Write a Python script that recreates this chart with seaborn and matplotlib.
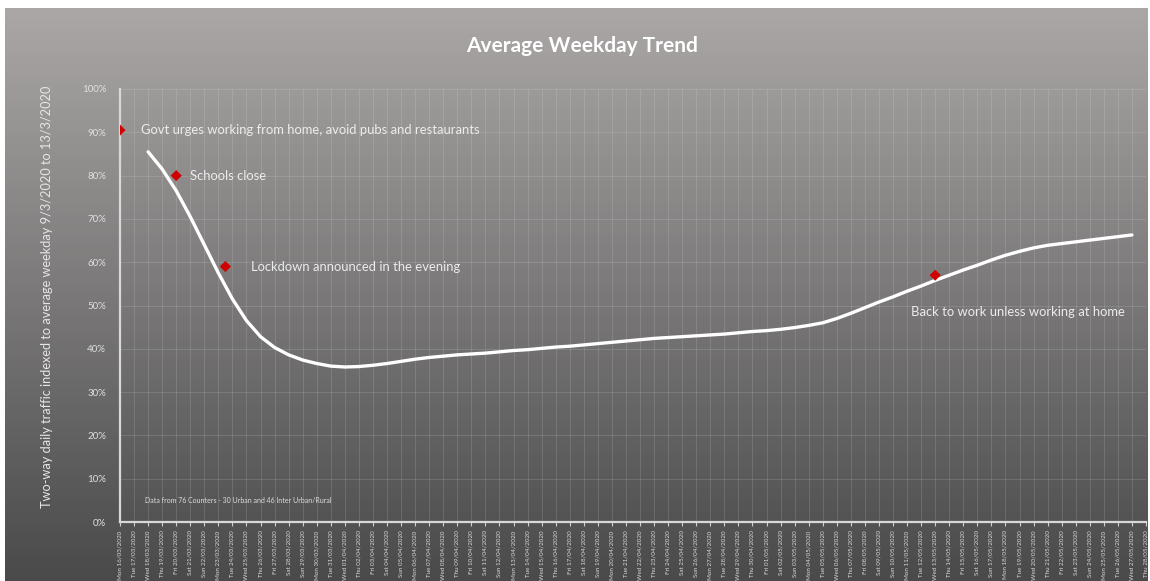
import numpy as np
import pandas as pd
import matplotlib
matplotlib.use("Agg")
import matplotlib.pyplot as plt
import seaborn as sns

# ---------------- data ----------------
dates = pd.date_range("2020-03-16", periods=74, freq="D")
date_labels = [d.strftime("%a %d/%m/%Y") for d in dates]

trend_day = list(range(2, 73))
trend_pct = [85.5, 81.5, 76.5, 70.5, 64.0, 57.5, 51.5, 46.5, 42.8, 40.3,
             38.6, 37.4, 36.6, 36.0, 35.8, 35.9, 36.2, 36.6, 37.1, 37.6,
             38.0, 38.3, 38.6, 38.8, 39.0, 39.3, 39.6, 39.8, 40.1, 40.4,
             40.6, 40.9, 41.2, 41.5, 41.8, 42.1, 42.4, 42.6, 42.8, 43.0,
             43.2, 43.4, 43.7, 44.0, 44.2, 44.5, 44.9, 45.4, 46.0, 47.0,
             48.2, 49.5, 50.8, 52.0, 53.3, 54.5, 55.8, 57.0, 58.2, 59.3,
             60.5, 61.6, 62.5, 63.3, 63.9, 64.3, 64.7, 65.1, 65.5, 65.9, 66.3]

event_day = [0, 4, 7.5, 58]
event_pct = [90.5, 80.0, 59.0, 57.0]
event_text = ["Govt urges working from home, avoid pubs and restaurants",
              "Schools close",
              "Lockdown announced in the evening",
              "Back to work unless working at home"]

title = "Average Weekday Trend"
y_label = "Two-way daily traffic indexed to average weekday 9/3/2020 to 13/3/2020"
note = "Data from 76 Counters - 30 Urban and 46 Inter Urban/Rural"
y_ticks = [0, 10, 20, 30, 40, 50, 60, 70, 80, 90, 100]

# ---------------- styling ----------------
sns.set_theme(style="white")
plt.rcParams["font.family"] = ["Lato", "DejaVu Sans"]

W, H = 1150, 581
fig = plt.figure(figsize=(W / 100, H / 100), dpi=100)
fig.patch.set_facecolor("white")

# gradient background
bg = fig.add_axes([5 / W, 0, 1 - 7 / W, 1 - 8 / H])
grad = np.linspace(0, 1, 256).reshape(-1, 1)
top = np.array([0xab, 0xa7, 0xa7]) / 255
bot = np.array([0x4a, 0x4a, 0x4a]) / 255
img = top[None, None, :] * (1 - grad[:, :, None]) + bot[None, None, :] * grad[:, :, None]
bg.imshow(img, aspect="auto", extent=[0, 1, 0, 1])
bg.set_axis_off()

ax = fig.add_axes([120 / W, (H - 522) / H, (1146 - 120) / W, (522 - 89) / H])
ax.patch.set_alpha(0)

df_line = pd.DataFrame({"day": trend_day, "pct": trend_pct})
df_ev = pd.DataFrame({"day": event_day, "pct": event_pct})

sns.lineplot(data=df_line, x="day", y="pct", ax=ax, color="white", lw=2.4, zorder=3)
sns.scatterplot(data=df_ev, x="day", y="pct", ax=ax, marker="D", color="#d00000",
                s=32, edgecolor="none", zorder=4)

txt_col = "#ececec"
offsets = [(1.5, 0), (0.95, 0), (1.8, 0), (-1.7, -8.5)]
for (x, y), t, (dx, dy) in zip(zip(event_day, event_pct), event_text, offsets):
    ax.text(x + dx, y + dy, t, color=txt_col, fontsize=9.4, va="center", ha="left", zorder=5)

ax.set_xlim(0, 73)
ax.set_ylim(0, 100)
ax.set_xticks(range(len(date_labels)))
ax.set_xticklabels(date_labels, rotation=90, fontsize=4.5, color="#d8d8d8")
ax.set_yticks(y_ticks)
ax.set_yticklabels([f"{v}%" for v in y_ticks], fontsize=7, color="#e0e0e0")
ax.tick_params(axis="x", length=3, width=0.8, color="#cfcfcf", pad=3, bottom=True)
ax.tick_params(axis="y", length=0, pad=10)

ax.grid(True, color="white", alpha=0.13, lw=0.7)
for s in ["top", "right"]:
    ax.spines[s].set_visible(False)
for s in ["left", "bottom"]:
    ax.spines[s].set_color("#d8d8d8")
    ax.spines[s].set_linewidth(1.6)

ax.set_xlabel("")
ax.set_ylabel("")

fig.text(582 / W, 1 - 46 / H, title, color="white", fontsize=15, fontweight="bold",
         ha="center", va="center")
fig.text(47 / W, 1 - 297 / H, y_label, color="#e6e6e6", fontsize=9.2, rotation=90,
         ha="center", va="center")
ax.text(1.8, 5, note, color="#dcdcdc", fontsize=5.0, va="center", ha="left")

fig.savefig("out.png", dpi=100)
